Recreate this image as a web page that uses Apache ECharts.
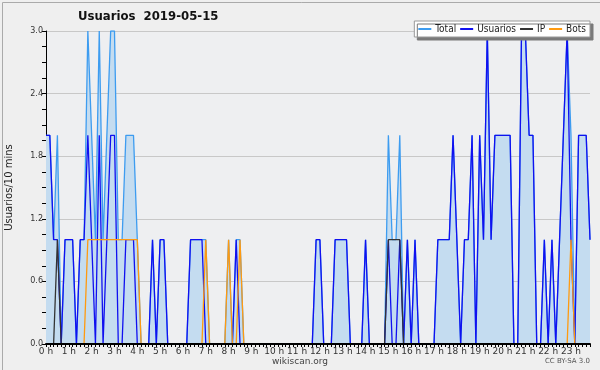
<!DOCTYPE html>
<html><head><meta charset="utf-8">
<script src="https://cdn.jsdelivr.net/npm/echarts@6/dist/echarts.min.js"></script>
<style>html,body{margin:0;padding:0;background:#efefef}#c{width:600px;height:370px}</style>
</head><body><div id="c"></div>
<script>
const hourLabels = ['0 h','1 h','2 h','3 h','4 h','5 h','6 h','7 h','8 h','9 h','10 h','11 h','12 h','13 h','14 h','15 h','16 h','17 h','18 h','19 h','20 h','21 h','22 h','23 h'];
const yTicks = [0, 0.6, 1.2, 1.8, 2.4, 3.0];
const total = [2,2,1,2,0,1,1,1,0,1, 1,3,2,1,3,1,2,3,3,1, 1,2,2,2,1,0,0,0,1,0, 1,1,0,0,0,0,0,0,1,1,
  1,1,1,0,0,0,0,0,1,0, 1,1,0,0,0,0,0,0,0,0, 0,0,0,0,0,0,0,0,0,0, 0,1,1,0,0,0,1,1,1,1,
  0,0,0,0,1,0,0,0,0,0, 2,1,1,2,0,1,0,1,0,0, 0,0,0,1,1,1,1,2,1,0, 1,1,2,0,2,1,3,1,2,2,
  2,2,2,0,0,3,3,2,2,0, 0,1,0,1,0,1,2,3,2,0, 2,2,2,1];
const usuarios = [2,2,1,1,0,1,1,1,0,1, 1,2,1,0,2,0,1,2,2,0, 0,1,1,1,0,0,0,0,1,0, 1,1,0,0,0,0,0,0,1,1,
  1,1,0,0,0,0,0,0,0,0, 1,0,0,0,0,0,0,0,0,0, 0,0,0,0,0,0,0,0,0,0, 0,1,1,0,0,0,1,1,1,1,
  0,0,0,0,1,0,0,0,0,0, 1,0,0,1,0,1,0,1,0,0, 0,0,0,1,1,1,1,2,1,0, 1,1,2,0,2,1,3,1,2,2,
  2,2,2,0,0,3,3,2,2,0, 0,1,0,1,0,1,2,3,1,0, 2,2,2,1];
const ip = [0,0,0,1,0,0,0,0,0,0, 0,0,0,0,0,0,0,0,0,0, 0,0,0,0,0,0,0,0,0,0, 0,0,0,0,0,0,0,0,0,0,
  0,0,0,0,0,0,0,0,0,0, 0,0,0,0,0,0,0,0,0,0, 0,0,0,0,0,0,0,0,0,0, 0,0,0,0,0,0,0,0,0,0,
  0,0,0,0,0,0,0,0,0,0, 1,1,1,1,0,0,0,0,0,0, 0,0,0,0,0,0,0,0,0,0, 0,0,0,0,0,0,0,0,0,0,
  0,0,0,0,0,0,0,0,0,0, 0,0,0,0,0,0,0,0,0,0, 0,0,0,0];
const bots = [0,0,0,0,0,0,0,0,0,0, 0,1,1,1,1,1,1,1,1,1, 1,1,1,1,1,0,0,0,0,0, 0,0,0,0,0,0,0,0,0,0,
  0,0,1,0,0,0,0,0,1,0, 0,1,0,0,0,0,0,0,0,0, 0,0,0,0,0,0,0,0,0,0, 0,0,0,0,0,0,0,0,0,0,
  0,0,0,0,0,0,0,0,0,0, 0,0,0,0,0,0,0,0,0,0, 0,0,0,0,0,0,0,0,0,0, 0,0,0,0,0,0,0,0,0,0,
  0,0,0,0,0,0,0,0,0,0, 0,0,0,0,0,0,0,0,1,0, 0,0,0,0];

const categories = [];
for (let h = 0; h < 24; h++) for (let m = 0; m < 6; m++) categories.push(m === 0 ? hourLabels[h] : '');

const chart = echarts.init(document.getElementById('c'), null, {renderer: 'canvas'});
const FONT = 'DejaVu Sans';
const FONTC = 'DejaVu Sans Condensed';
function line(name, data, color, extra) {
  return Object.assign({
    name, type: 'line', data, symbol: 'none', showSymbol: false, animation: false,
    lineStyle: {color, width: 1.3}, itemStyle: {color}
  }, extra || {});
}
chart.setOption({
  backgroundColor: '#efefef',
  animation: false,
  title: {
    text: 'Usuarios  2019-05-15', left: 73, top: 5,
    textStyle: {fontFamily: FONTC, fontSize: 13, fontWeight: 'bold', color: '#111'}
  },
  legend: {
    right: 10, top: 21, padding: [3, 4, 3, 4], itemGap: 4, itemWidth: 13, itemHeight: 2, icon: 'rect',
    backgroundColor: '#ffffff', borderColor: '#999', borderWidth: 1,
    shadowColor: '#7a7a7a', shadowBlur: 0, shadowOffsetX: 3, shadowOffsetY: 3,
    textStyle: {fontFamily: FONTC, fontSize: 10, color: '#222', padding: [0, 0, 0, -1]},
    data: ['Total', 'Usuarios', 'IP', 'Bots']
  },
  grid: {left: 46, right: 10, top: 31, bottom: 26, show: true, backgroundColor: '#eeeff1', borderWidth: 0,
    containLabel: false, outerBoundsMode: 'none'},
  xAxis: {
    type: 'category', data: categories, boundaryGap: false, z: 10,
    axisLine: {lineStyle: {color: '#000', width: 2}},
    axisTick: {show: true, interval: 0, length: 3, lineStyle: {color: '#000'}},
    axisLabel: {interval: 0, margin: 3, fontFamily: FONT, fontSize: 9, color: '#333',
      formatter: v => v},
    splitLine: {show: false}
  },
  yAxis: {
    type: 'value', min: yTicks[0], max: yTicks[yTicks.length - 1], interval: yTicks[1] - yTicks[0],
    name: 'Usuarios/10 mins', nameLocation: 'middle', nameRotate: 90, nameGap: 32,
    nameTextStyle: {fontFamily: FONT, fontSize: 10, color: '#222'},
    axisLine: {show: true, lineStyle: {color: '#000', width: 1}},
    axisTick: {show: true, length: 4, lineStyle: {color: '#000'}},
    minorTick: {show: true, splitNumber: 4, length: 4, lineStyle: {color: '#000'}},
    axisLabel: {margin: 3, fontFamily: FONT, fontSize: 8, color: '#333', formatter: v => v.toFixed(1)},
    splitLine: {show: true, lineStyle: {color: '#c8c8c8', width: 1}}
  },
  graphic: [
    {type: 'text', left: 'center', top: 357, style: {text: 'wikiscan.org', font: '9px "DejaVu Sans"', fill: '#444'}},
    {type: 'text', right: 10, top: 358, style: {text: 'CC BY-SA 3.0', font: '7px "DejaVu Sans"', fill: '#555'}},
    {type: 'rect', left: 0, top: 0, shape: {width: 599, height: 369}, style: {fill: 'none', stroke: '#aaa', lineWidth: 1}, silent: true}
  ],
  series: [
    line('Total', total, '#3d9cf0', {areaStyle: {color: '#c4dcf0', opacity: 1}, z: 2}),
    line('Usuarios', usuarios, '#1010f0', {z: 3}),
    line('IP', ip, '#333333', {z: 4}),
    line('Bots', bots, '#ff9a10', {z: 5})
  ]
});
</script></body></html>
